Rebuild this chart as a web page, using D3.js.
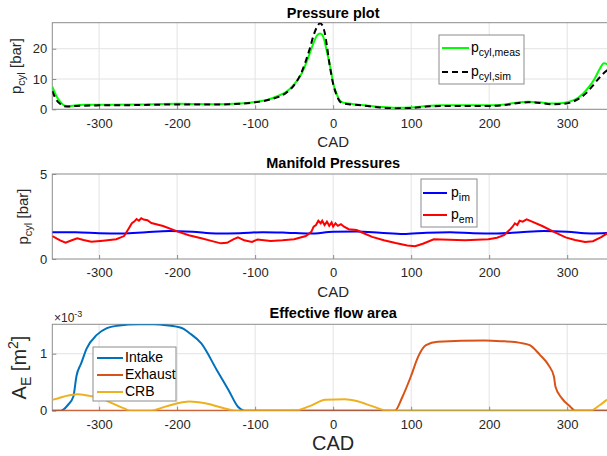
<!DOCTYPE html>
<html>
<head>
<meta charset="utf-8">
<script src="https://cdn.jsdelivr.net/npm/d3@7.9.0/dist/d3.min.js"></script>
<style>
  body { margin: 0; background: #fff; }
  svg { font-family: "Liberation Sans", Arial, sans-serif; display: block; }
</style>
</head>
<body>
<div id="chart"></div>
<script>
// ---- data ----
const cadTicks = [-300, -200, -100, 0, 100, 200, 300];

// cylinder pressure [bar]
const pCylMeas = [[-360,7.5],[-355,4.5],[-350,2.5],[-345,1.3],[-340,1.0],[-330,1.3],[-320,1.5],[-300,1.5],
  [-250,1.6],[-200,1.8],[-150,1.7],[-120,1.9],[-100,2.4],[-90,2.8],[-80,3.5],[-70,4.5],[-60,5.8],[-50,8.2],
  [-40,12],[-35,15],[-30,18.5],[-25,22],[-21,24.3],[-17,25],[-14,24.6],[-11,22.5],[-8,19],[-5,15.5],[-2,11.5],
  [0,8.6],[2,6.8],[4,5.4],[8,3],[12,2.3],[20,1.9],[30,1.6],[40,1.3],[60,0.8],[80,0.5],[100,0.6],[120,1.1],
  [140,1.3],[200,1.3],[220,1.6],[235,2.2],[250,2.5],[265,2.3],[280,1.9],[295,2.1],[305,2.7],[315,4],[325,6.5],
  [335,10],[342,13.5],[347,15.2],[352,14.8],[357,13.5],[360,12.5]];
const pCylSim = [[-360,6],[-355,3.2],[-350,1.8],[-345,1.0],[-340,0.9],[-330,1.1],[-300,1.3],[-250,1.4],
  [-200,1.6],[-150,1.6],[-120,1.8],[-100,2.3],[-80,3.3],[-60,5.5],[-50,8],[-40,12.5],[-35,16],[-30,20],
  [-25,24.5],[-20,27.5],[-17,28.4],[-14,27.8],[-11,25.5],[-8,21],[-5,15.5],[-2,11],[0,8.4],[2,6.5],[4,5],
  [8,2.8],[12,2],[20,1.7],[40,1.2],[60,0.6],[80,0.3],[100,0.4],[120,0.9],[140,1.1],[200,1.1],[220,1.4],
  [235,2],[250,2.3],[265,2.1],[280,1.7],[295,1.8],[305,2.3],[315,3.5],[325,5.5],[335,8.5],[345,11.5],
  [352,13],[360,14]];

// manifold pressures [bar]
const pIm = [[-360,1.58],[-330,1.58],[-300,1.52],[-270,1.5],[-240,1.58],[-210,1.65],[-180,1.6],[-150,1.5],
  [-120,1.52],[-90,1.58],[-60,1.55],[-30,1.5],[0,1.6],[30,1.62],[60,1.55],[90,1.47],[120,1.55],[150,1.58],
  [180,1.52],[210,1.5],[240,1.58],[270,1.65],[300,1.6],[330,1.5],[360,1.55]];
const pEm = [[-360,1.35],[-350,1.1],[-343,0.96],[-335,1.1],[-328,1.22],[-320,1.12],[-310,1.02],[-295,1.08],
  [-278,1.16],[-268,1.35],[-262,1.8],[-258,2.1],[-255,2.2],[-252,2.35],[-249,2.25],[-246,2.4],[-243,2.32],
  [-238,2.28],[-233,2.12],[-228,2.06],[-218,1.94],[-199,1.61],[-185,1.4],[-169,1.22],[-155,1.05],[-144,0.92],
  [-136,0.95],[-128,1.15],[-122,1.28],[-114,1.1],[-104,1.0],[-97,1.15],[-80,1.06],[-65,1.1],[-50,1.16],
  [-35,1.35],[-28,1.6],[-25,1.9],[-22,2.0],[-19,2.25],[-16,2.1],[-14,2.25],[-11,2.0],[-8,2.2],[-5,1.95],
  [-2,2.15],[0,1.9],[3,2.1],[6,1.95],[10,2.05],[14,1.9],[20,1.75],[30,1.7],[40,1.5],[50,1.3],[65,1.1],
  [80,0.94],[95,0.8],[105,0.75],[115,0.9],[129,1.16],[169,1.1],[199,1.16],[210,1.25],[219,1.4],[226,1.7],
  [230,1.9],[233,2.1],[236,2.0],[239,2.25],[243,2.2],[248,2.33],[255,2.2],[268,1.94],[283,1.6],[298,1.27],
  [310,1.12],[323,1.0],[333,1.05],[343,1.27],[351,1.5],[360,1.6]];

// effective flow areas [m^2]
const aIntake = [[-360,0],[-349,0],[-340,0.1e-3],[-333,0.25e-3],[-329,0.61e-3],[-323,0.83e-3],[-316,1.09e-3],
  [-303,1.33e-3],[-290,1.45e-3],[-277,1.49e-3],[-248,1.515e-3],[-230,1.515e-3],[-214,1.5e-3],[-194,1.45e-3],
  [-184,1.36e-3],[-169,1.18e-3],[-149,0.71e-3],[-134,0.36e-3],[-122,0.07e-3],[-116,0.01e-3],[-112,0],[360,0]];
const aExhaust = [[-360,0],[79,0],[89,0.25e-3],[99.6,0.6e-3],[109,0.95e-3],[119,1.15e-3],[134,1.21e-3],
  [194,1.23e-3],[215,1.22e-3],[240,1.19e-3],[252,1.15e-3],[265,0.98e-3],[276,0.8e-3],[283,0.6e-3],
  [285,0.42e-3],[293,0.22e-3],[304,0.07e-3],[310,0],[360,0]];
const aCrb = [[-360,0.19e-3],[-352,0.22e-3],[-342,0.26e-3],[-328,0.29e-3],[-312,0.26e-3],[-298,0.22e-3],
  [-288,0.16e-3],[-268,0.04e-3],[-260,0],[-233,0],[-220,0.05e-3],[-208,0.1e-3],[-184,0.16e-3],[-164,0.13e-3],
  [-139,0.04e-3],[-126,0],[-50,0],[-30,0.08e-3],[-10,0.19e-3],[15,0.2e-3],[30,0.17e-3],[50,0.08e-3],
  [70,0],[329,0],[342,0.1e-3],[351,0.19e-3],[360,0.25e-3]];

// ---- drawing ----
const W = 607, H = 456;
const svg = d3.select("#chart").append("svg").attr("width", W).attr("height", H);

const x = d3.scaleLinear().domain([-360, 360]).range([52.3, 614]);
const boxColor = "#8c8c8c", gridColor = "#e3e3e3", txt = "#262626";

function panel(id, top, bottom, ymax, yticks, opt) {
  const y = d3.scaleLinear().domain([0, ymax]).range([bottom, top]);
  const g = svg.append("g");
  g.append("clipPath").attr("id", "clip" + id)
    .append("rect").attr("x", x(-360)).attr("y", top).attr("width", x(360) - x(-360)).attr("height", bottom - top);

  // grid
  g.selectAll(".gx").data(cadTicks).join("line")
    .attr("x1", d => x(d)).attr("x2", d => x(d)).attr("y1", top).attr("y2", bottom)
    .attr("stroke", gridColor).attr("stroke-width", 1);
  if (opt.ygrid) {
    g.selectAll(".gy").data(yticks).join("line")
      .attr("x1", x(-360)).attr("x2", x(360)).attr("y1", d => y(d)).attr("y2", d => y(d))
      .attr("stroke", gridColor).attr("stroke-width", 1);
  }

  // axes (ticks pointing inward, MATLAB style); plain hyphen for negatives
  const ax = g.append("g").attr("transform", `translate(0,${bottom})`)
    .call(d3.axisBottom(x).tickValues(cadTicks).tickFormat(d => String(d)).tickSizeInner(-4).tickSizeOuter(0).tickPadding(9));
  const ay = g.append("g").attr("transform", `translate(${x(-360)},0)`)
    .call(d3.axisLeft(y).tickValues(yticks).tickFormat(opt.fmt || (d => String(d))).tickSizeInner(-4).tickSizeOuter(0).tickPadding(5));
  [ax, ay].forEach(a => {
    a.select(".domain").remove();
    a.selectAll("line").attr("stroke", boxColor);
    a.selectAll("text").attr("fill", txt).style("font-size", "13px")
      .style("font-family", "'Liberation Sans', Arial, sans-serif");
  });

  // box
  g.append("rect").attr("x", x(-360)).attr("y", top).attr("width", x(360) - x(-360)).attr("height", bottom - top)
    .attr("fill", "none").attr("stroke", boxColor).attr("stroke-width", 1);

  const plot = g.append("g").attr("clip-path", `url(#clip${id})`);
  return { g, y, plot };
}

const lineOf = y => d3.line().x(d => x(d[0])).y(d => y(d[1])).curve(d3.curveMonotoneX);

function title(text, yb) {
  svg.append("text").attr("x", (x(-360) + x(360)) / 2).attr("y", yb).attr("text-anchor", "middle")
    .style("font-size", "14.5px").style("font-weight", "bold").attr("fill", "#000").text(text);
}
function xlabel(yb, size) {
  svg.append("text").attr("x", (x(-360) + x(360)) / 2).attr("y", yb).attr("text-anchor", "middle")
    .style("font-size", size + "px").attr("fill", txt).text("CAD");
}
function ylabelP(xb, cy) {
  const t = svg.append("text").attr("transform", `translate(${xb},${cy}) rotate(-90)`)
    .attr("text-anchor", "middle").attr("fill", txt).style("font-size", "15px");
  t.append("tspan").text("p");
  t.append("tspan").attr("dy", 4).style("font-size", "11px").text("cyl");
  t.append("tspan").attr("dy", -4).text(" [bar]");
}

// Panel 1: cylinder pressure
const p1 = panel(1, 22.7, 109.3, 28.6, [0, 10, 20], { ygrid: true });
p1.plot.append("path").datum(pCylMeas).attr("d", lineOf(p1.y))
  .attr("fill", "none").attr("stroke", "#00ff00").attr("stroke-width", 2);
p1.plot.append("path").datum(pCylSim).attr("d", lineOf(p1.y))
  .attr("fill", "none").attr("stroke", "#000").attr("stroke-width", 2).attr("stroke-dasharray", "6,4");
title("Pressure plot", 18);
xlabel(147, 15);
ylabelP(21, 66);

// Panel 2: manifold pressures
const p2 = panel(2, 174, 259, 5, [0, 5], { ygrid: false });
p2.plot.append("path").datum(pIm).attr("d", lineOf(p2.y))
  .attr("fill", "none").attr("stroke", "#0000ff").attr("stroke-width", 2);
p2.plot.append("path").datum(pEm).attr("d", d3.line().x(d => x(d[0])).y(d => p2.y(d[1])))
  .attr("fill", "none").attr("stroke", "#ff0000").attr("stroke-width", 2);
title("Manifold Pressures", 168);
xlabel(297, 15);
ylabelP(28, 216.5);

// Panel 3: effective flow area
const p3 = panel(3, 324.3, 410.7, 1.516e-3, [0, 1e-3], { ygrid: true, fmt: d => String(Math.round(d * 1000)) });
[[aIntake, "#0072BD"], [aExhaust, "#D95319"], [aCrb, "#EDB120"]].forEach(([data, c]) => {
  p3.plot.append("path").datum(data).attr("d", lineOf(p3.y))
    .attr("fill", "none").attr("stroke", c).attr("stroke-width", 2);
});
title("Effective flow area", 318);
xlabel(450, 20);
{
  const t = svg.append("text").attr("transform", `translate(26,367.5) rotate(-90)`)
    .attr("text-anchor", "middle").attr("fill", txt).style("font-size", "20px");
  t.append("tspan").text("A");
  t.append("tspan").attr("dy", 5).style("font-size", "14px").text("E");
  t.append("tspan").attr("dy", -5).text(" [m");
  t.append("tspan").attr("dy", -8).style("font-size", "14px").text("2");
  t.append("tspan").attr("dy", 8).text("]");
  const e = svg.append("text").attr("x", 54).attr("y", 322).attr("fill", txt).style("font-size", "12px");
  e.append("tspan").text("\u00d710");
  e.append("tspan").attr("dy", -5).style("font-size", "9px").text("-3");
}

// ---- legends ----
function legend(box, items) {
  svg.append("rect").attr("x", box[0]).attr("y", box[1]).attr("width", box[2] - box[0]).attr("height", box[3] - box[1])
    .attr("fill", "#fff").attr("stroke", boxColor).attr("stroke-width", 1);
  items.forEach(it => {
    svg.append("line").attr("x1", it.x1).attr("x2", it.x2).attr("y1", it.y).attr("y2", it.y)
      .attr("stroke", it.color).attr("stroke-width", 2).attr("stroke-dasharray", it.dash || null);
    const t = svg.append("text").attr("x", it.tx).attr("y", it.y + 4).attr("fill", "#000").style("font-size", "14px");
    t.append("tspan").text(it.main);
    if (it.sub) t.append("tspan").attr("dy", 4).style("font-size", "10.5px").text(it.sub);
  });
}
legend([439, 35, 524, 84], [
  { x1: 442, x2: 469, y: 48, tx: 471, color: "#00ff00", main: "p", sub: "cyl,meas" },
  { x1: 442, x2: 469, y: 72, tx: 471, color: "#000", dash: "6,4", main: "p", sub: "cyl,sim" }
]);
legend([421, 179, 477, 227], [
  { x1: 423, x2: 447, y: 193, tx: 451, color: "#0000ff", main: "p", sub: "im" },
  { x1: 423, x2: 447, y: 215, tx: 451, color: "#ff0000", main: "p", sub: "em" }
]);
legend([93, 347, 176, 401], [
  { x1: 97, x2: 123, y: 358, tx: 125, color: "#0072BD", main: "Intake" },
  { x1: 97, x2: 123, y: 375, tx: 125, color: "#D95319", main: "Exhaust" },
  { x1: 97, x2: 123, y: 392, tx: 125, color: "#EDB120", main: "CRB" }
]);
</script>
</body>
</html>
